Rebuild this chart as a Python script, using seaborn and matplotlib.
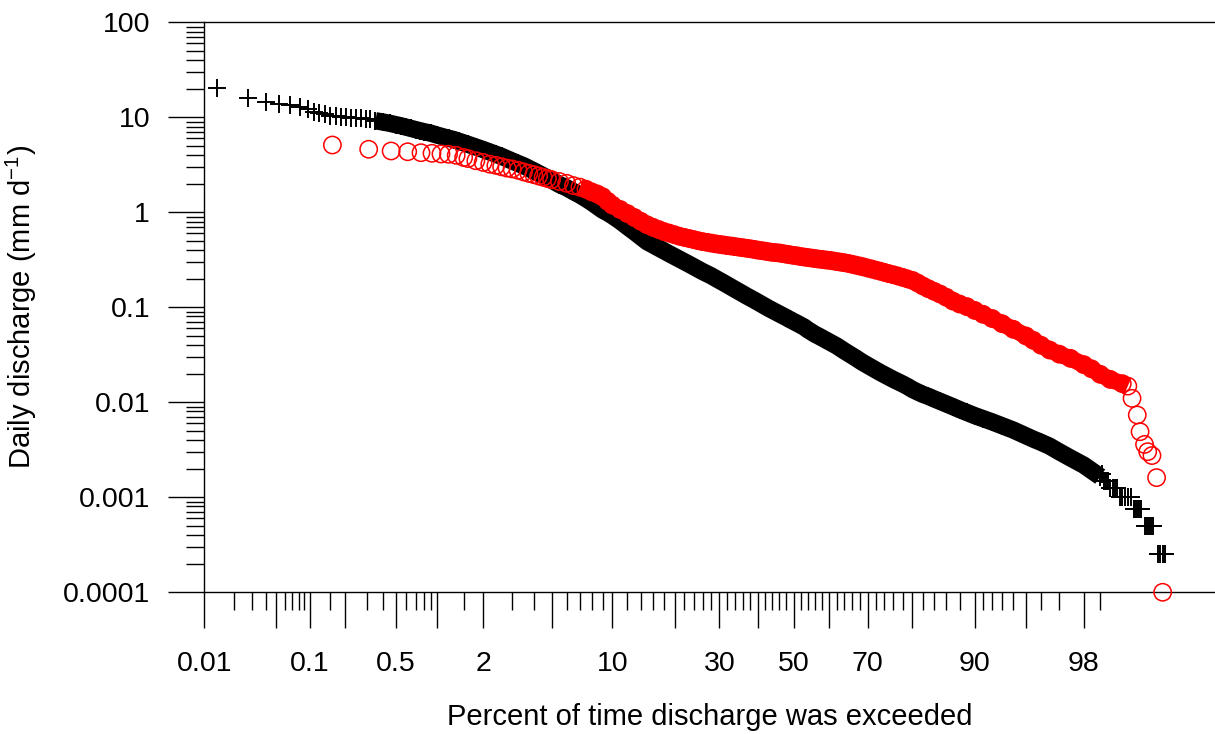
import math
import numpy as np
import matplotlib
matplotlib.use("Agg")
import matplotlib.pyplot as plt
from matplotlib.ticker import (FixedLocator, FixedFormatter, LogLocator,
                               NullFormatter, FuncFormatter)
import seaborn as sns

# ---------------------------------------------------------------- data ----
# black "+" series : individual highest flows
black_sparse_pct = [0.0135, 0.027, 0.040, 0.053, 0.067, 0.082, 0.096, 0.109,
                    0.121, 0.135, 0.150, 0.167, 0.184, 0.202, 0.222, 0.244,
                    0.268, 0.293, 0.32]
black_sparse_q = [20.2, 16.0, 14.6, 13.8, 13.5, 12.9, 12.1, 11.5,
                  11.0, 10.8, 10.3, 10.2, 10.1, 10.0, 9.9, 9.83,
                  9.76, 9.67, 9.6]

# black "+" series : dense body of the curve
black_dense_pct = [0.35, 0.4, 0.45, 0.5, 0.55, 0.6, 0.65, 0.7, 0.75, 0.8, 0.9,
                   1.0, 1.1, 1.2, 1.3, 1.4, 1.5, 1.6, 1.8,
                   2.0, 2.2, 2.4, 2.6, 2.8, 3.0, 3.25, 3.5, 3.75,
                   4.0, 4.25, 4.5, 4.75, 5.0, 5.5, 6.0, 6.5,
                   7.0, 7.5, 8.0, 8.5, 9.0, 9.5,
                   10, 11, 12, 13, 14, 15, 16, 17, 18, 19,
                   20, 21, 22, 23, 24, 25, 26, 27, 28, 29,
                   30, 31, 32, 33, 34, 35, 36, 37, 38, 39,
                   40, 41, 42, 43, 44, 45, 46, 47, 48, 49,
                   50, 51, 52, 53, 54, 55, 56, 57, 58, 59,
                   60, 61, 62, 63, 64, 65, 66, 67, 68, 69,
                   70, 71, 72, 73, 74, 75, 76, 77, 78, 79,
                   80, 81, 82, 83, 84, 85, 86, 87, 88, 89,
                   90, 91, 92, 93, 94, 95, 95.5, 96, 96.5, 97, 97.5,
                   98, 98.25, 98.5]
black_dense_q = [9.19, 8.92, 8.65, 8.38, 8.12, 7.87, 7.64, 7.42, 7.23, 7.07, 6.80,
                 6.48, 6.22, 6.01, 5.81, 5.59, 5.39, 5.20, 4.87,
                 4.58, 4.32, 4.09, 3.88, 3.66, 3.47, 3.27, 3.09, 2.90,
                 2.73, 2.57, 2.43, 2.30, 2.18, 1.96, 1.81, 1.65,
                 1.52, 1.39, 1.27, 1.157, 1.055, 0.988,
                 0.919, 0.808, 0.705, 0.623, 0.551, 0.490, 0.453, 0.421, 0.391, 0.365,
                 0.342, 0.321, 0.302, 0.284, 0.267, 0.252, 0.2376, 0.2258, 0.2146, 0.2025,
                 0.1915, 0.1815, 0.1716, 0.1628, 0.1540, 0.1463, 0.1387, 0.1315, 0.1253, 0.1193,
                 0.1134, 0.1078, 0.1027, 0.0976, 0.0932, 0.0890, 0.0852, 0.0814, 0.0779, 0.0742,
                 0.0710, 0.0679, 0.0648, 0.0619, 0.0581, 0.0550, 0.0521, 0.0499, 0.0476, 0.0455,
                 0.0432, 0.0412, 0.0392, 0.0369, 0.0348, 0.0329, 0.0311, 0.0293, 0.0275, 0.0259,
                 0.0245, 0.0231, 0.0218, 0.0206, 0.0195, 0.0184, 0.0174, 0.0165, 0.0156, 0.01467,
                 0.01364, 0.01284, 0.01211, 0.01153, 0.01086, 0.01024, 0.00964, 0.00901, 0.00838, 0.00781,
                 0.00724, 0.00674, 0.00622, 0.00566, 0.00510, 0.00443, 0.00410, 0.00379, 0.00345, 0.00301, 0.00259,
                 0.00218, 0.00191, 0.00165]

# black "+" series : discrete low-flow tail
black_tail_pct = [98.55, 98.6, 98.65, 98.7, 98.75, 98.8, 98.85, 98.9,
                  98.95, 99.0, 99.05, 99.1, 99.15,
                  99.2, 99.22, 99.25, 99.28, 99.3,
                  99.35, 99.38, 99.4, 99.43, 99.45,
                  99.5, 99.52, 99.55, 99.57]
black_tail_q = [0.00175, 0.0015, 0.0015, 0.0015, 0.00125, 0.00125, 0.00125, 0.00125,
                0.001, 0.001, 0.001, 0.001, 0.001,
                0.00075, 0.00075, 0.00075, 0.00075, 0.00075,
                0.0005, 0.0005, 0.0005, 0.0005, 0.0005,
                0.00025, 0.00025, 0.00025, 0.00025]

# red "o" series : individual / loosely overlapping circles
red_sparse_pct = [0.157, 0.310, 0.462, 0.614, 0.766, 0.916, 1.057, 1.19, 1.34,
                  1.5, 1.6, 1.8, 2.0, 2.2, 2.4, 2.6, 2.8, 3.0, 3.25, 3.5, 3.75,
                  4.0, 4.25, 4.5, 4.75, 5.0, 5.5, 6.0, 6.5]
red_sparse_q = [5.11, 4.61, 4.42, 4.34, 4.24, 4.18, 4.11, 4.08, 3.98,
                3.78, 3.68, 3.49, 3.35, 3.21, 3.12, 3.01, 2.92, 2.86, 2.77, 2.66, 2.57,
                2.49, 2.41, 2.34, 2.27, 2.21, 2.11, 2.02, 1.91]

# red "o" series : dense body of the curve
red_dense_pct = [7.0, 7.5, 8.0, 8.5, 9.0, 9.5,
                 10, 11, 12, 13, 14, 15, 16, 17, 18, 19,
                 20, 21, 22, 23, 24, 25, 26, 27, 28, 29,
                 30, 31, 32, 33, 34, 35, 36, 37, 38, 39,
                 40, 41, 42, 43, 44, 45, 46, 47, 48, 49,
                 50, 51, 52, 53, 54, 55, 56, 57, 58, 59,
                 60, 61, 62, 63, 64, 65, 66, 67, 68, 69,
                 70, 71, 72, 73, 74, 75, 76, 77, 78, 79,
                 80, 81, 82, 83, 84, 85, 86, 87, 88, 89,
                 90, 91, 92, 93, 94, 95, 95.5, 96, 96.5, 97, 97.5,
                 98, 98.25, 98.5, 98.75, 99.0, 99.1]
red_dense_q = [1.84, 1.75, 1.64, 1.56, 1.46, 1.31,
               1.19, 1.07, 0.969, 0.882, 0.804, 0.739, 0.695, 0.658, 0.626, 0.603,
               0.580, 0.559, 0.544, 0.530, 0.516, 0.502, 0.491, 0.483, 0.474, 0.466,
               0.459, 0.453, 0.446, 0.441, 0.435, 0.429, 0.424, 0.418, 0.413, 0.407,
               0.400, 0.395, 0.390, 0.384, 0.379, 0.376, 0.373, 0.367, 0.362, 0.357,
               0.352, 0.348, 0.342, 0.338, 0.334, 0.330, 0.326, 0.322, 0.319, 0.315,
               0.312, 0.308, 0.303, 0.299, 0.295, 0.290, 0.284, 0.278, 0.272, 0.266,
               0.259, 0.253, 0.246, 0.240, 0.233, 0.226, 0.220, 0.2136, 0.2064, 0.1990,
               0.1919, 0.1803, 0.1676, 0.1569, 0.1474, 0.1380, 0.1277, 0.1165, 0.1083, 0.1017,
               0.0928, 0.0844, 0.0762, 0.0672, 0.0587, 0.0499, 0.0450, 0.0399, 0.0355, 0.0321, 0.0290,
               0.0249, 0.0225, 0.0197, 0.0174, 0.0157, 0.0148]

# red "o" series : recession tail
red_tail_pct = [99.17, 99.25, 99.29, 99.35, 99.39, 99.44, 99.49, 99.55]
red_tail_q = [0.0110, 0.00735, 0.0049, 0.0036, 0.00302, 0.00275, 0.00161, 0.0001]

# axis ticks and labels
x_major_ticks = [0.01, 0.05, 0.1, 0.2, 0.5, 1, 2, 5, 10, 20, 30, 40, 50, 60,
                 70, 80, 90, 95, 98]
x_major_labels = ["0.01", "", "0.1", "", "0.5", "", "2", "", "10", "", "30", "",
                  "50", "", "70", "", "90", "", "98"]
x_minor_ticks = [0.02, 0.03, 0.04, 0.06, 0.07, 0.08, 0.09, 0.15, 0.3, 0.4,
                 0.6, 0.7, 0.8, 0.9, 1.5, 3, 4, 6, 7, 8, 9,
                 12, 14, 16, 18, 22, 24, 26, 28, 32, 34, 36, 38,
                 42, 44, 46, 48, 52, 54, 56, 58, 62, 64, 66, 68,
                 72, 74, 76, 78, 82, 84, 86, 88, 91, 92, 93, 94, 96, 97, 98.5]
x_label = "Percent of time discharge was exceeded"
y_label = "Daily discharge (mm d$^{-1}$)"

for a, b in [(black_sparse_pct, black_sparse_q), (black_dense_pct, black_dense_q),
             (black_tail_pct, black_tail_q), (red_sparse_pct, red_sparse_q),
             (red_dense_pct, red_dense_q), (red_tail_pct, red_tail_q)]:
    assert len(a) == len(b), (len(a), len(b))

# ------------------------------------------------- probability x-scale ----
Z10 = -1.2815515655446004     # z of 10 %
K_LEFT = 1.185                 # stretch of the axis below 10 %

_A = [-3.969683028665376e+01, 2.209460984245205e+02, -2.759285104469687e+02,
      1.383577518672690e+02, -3.066479806614716e+01, 2.506628277459239e+00]
_B = [-5.447609879822406e+01, 1.615858368580409e+02, -1.556989798598866e+02,
      6.680131188771972e+01, -1.328068155288572e+01]
_C = [-7.784894002430293e-03, -3.223964580411365e-01, -2.400758277161838e+00,
      -2.549732539343734e+00, 4.374664141464968e+00, 2.938163982698783e+00]
_D = [7.784695709041462e-03, 3.224671290700398e-01, 2.445134137142996e+00,
      3.754408661907416e+00]
_PLOW = 0.02425


def _tail(q):
    num = ((((_C[0] * q + _C[1]) * q + _C[2]) * q + _C[3]) * q + _C[4]) * q + _C[5]
    den = (((_D[0] * q + _D[1]) * q + _D[2]) * q + _D[3]) * q + 1
    return num / den


def _ppf(p):
    p = np.atleast_1d(np.asarray(p, dtype=float))
    out = np.full(p.shape, np.nan)
    with np.errstate(all="ignore"):
        lo = p < _PLOW
        hi = p > 1 - _PLOW
        mid = ~(lo | hi) & np.isfinite(p)
        out[lo] = _tail(np.sqrt(-2 * np.log(p[lo])))
        out[hi] = -_tail(np.sqrt(-2 * np.log(1 - p[hi])))
        q = p[mid] - 0.5
        r = q * q
        num = (((((_A[0] * r + _A[1]) * r + _A[2]) * r + _A[3]) * r + _A[4]) * r + _A[5]) * q
        den = ((((_B[0] * r + _B[1]) * r + _B[2]) * r + _B[3]) * r + _B[4]) * r + 1
        out[mid] = num / den
    return out


_erfc = np.vectorize(math.erfc, otypes=[float])


def _fwd(pct):
    arr = np.asarray(pct, dtype=float)
    p = np.clip(arr / 100.0, 1e-12, 1 - 1e-12)
    z = _ppf(p).reshape(arr.shape)
    return np.where(z < Z10, Z10 + (z - Z10) * K_LEFT, z)


def _inv(u):
    u = np.asarray(u, dtype=float)
    z = np.where(u < Z10, Z10 + (u - Z10) / K_LEFT, u)
    return 100.0 * 0.5 * _erfc(-z / math.sqrt(2.0))


# ---------------------------------------------------------------- style ----
sns.set_theme(style="ticks")
plt.rcParams["font.family"] = ["Liberation Sans", "DejaVu Sans"]
plt.rcParams["mathtext.fontset"] = "custom"
plt.rcParams["mathtext.rm"] = "Liberation Sans"
plt.rcParams["mathtext.it"] = "Liberation Sans:italic"
plt.rcParams["mathtext.default"] = "regular"

fig = plt.figure(figsize=(12.15, 7.34), dpi=100, facecolor="white")
ax = fig.add_axes([0.1681, 0.1931, 0.8319, 0.7765])
ax.set_facecolor("white")
ax.set_xscale("function", functions=(_fwd, _inv))
ax.set_yscale("log")

BLACK_LW = 12.5
RED_LW = 12.0
PLUS_S = 170
CIRC_S = 155

# black series
sns.lineplot(x=black_dense_pct, y=black_dense_q, color="black", linewidth=BLACK_LW,
             estimator=None, sort=False, ax=ax, zorder=2,
             solid_capstyle="butt", solid_joinstyle="round")
for xs, ys in [(black_sparse_pct, black_sparse_q), (black_dense_pct, black_dense_q),
               (black_tail_pct, black_tail_q)]:
    sns.scatterplot(x=xs, y=ys, marker="+", s=PLUS_S, color="black",
                    linewidth=1.4, ax=ax, zorder=3, clip_on=False, legend=False)

# red series
sns.lineplot(x=red_dense_pct, y=red_dense_q, color="#ff0000", linewidth=RED_LW,
             estimator=None, sort=False, ax=ax, zorder=4,
             solid_capstyle="butt", solid_joinstyle="round")
for xs, ys in [(red_sparse_pct, red_sparse_q), (red_dense_pct, red_dense_q),
               (red_tail_pct, red_tail_q)]:
    sns.scatterplot(x=xs, y=ys, marker="o", s=CIRC_S, facecolor="none",
                    edgecolor="#ff0000", linewidth=1.1, ax=ax, zorder=5,
                    clip_on=False, legend=False)

# axes limits / ticks
ax.set_xlim(0.01, 99.857)
ax.set_ylim(1e-4, 100)

ax.xaxis.set_major_locator(FixedLocator(x_major_ticks))
ax.xaxis.set_major_formatter(FixedFormatter(x_major_labels))
ax.xaxis.set_minor_locator(FixedLocator(x_minor_ticks))
ax.xaxis.set_minor_formatter(NullFormatter())

ax.yaxis.set_major_locator(LogLocator(base=10, numticks=20))
ax.yaxis.set_minor_locator(LogLocator(base=10, subs=np.arange(2, 10), numticks=100))
ax.yaxis.set_major_formatter(FuncFormatter(lambda v, _: f"{v:g}"))
ax.yaxis.set_minor_formatter(NullFormatter())

ax.tick_params(axis="both", which="major", direction="out", length=26, width=1.0,
               color="black", labelcolor="black", labelsize=20.5)
ax.tick_params(axis="both", which="minor", direction="out", length=13, width=1.0,
               color="black")
ax.tick_params(axis="x", which="major", pad=16.5)
ax.tick_params(axis="y", which="major", pad=13)
ax.tick_params(top=False, right=False)

for side in ["left", "bottom", "top"]:
    ax.spines[side].set_visible(True)
    ax.spines[side].set_color("black")
    ax.spines[side].set_linewidth(1.0)
ax.spines["right"].set_visible(False)
ax.grid(False)

ax.set_xlabel(x_label, fontsize=21, color="black")
ax.set_ylabel(y_label, fontsize=21, color="black")
ax.xaxis.set_label_coords(0.5, -0.1942)
ax.yaxis.set_label_coords(-0.1636, 0.5)

fig.savefig("out.png", dpi=100, facecolor="white")
